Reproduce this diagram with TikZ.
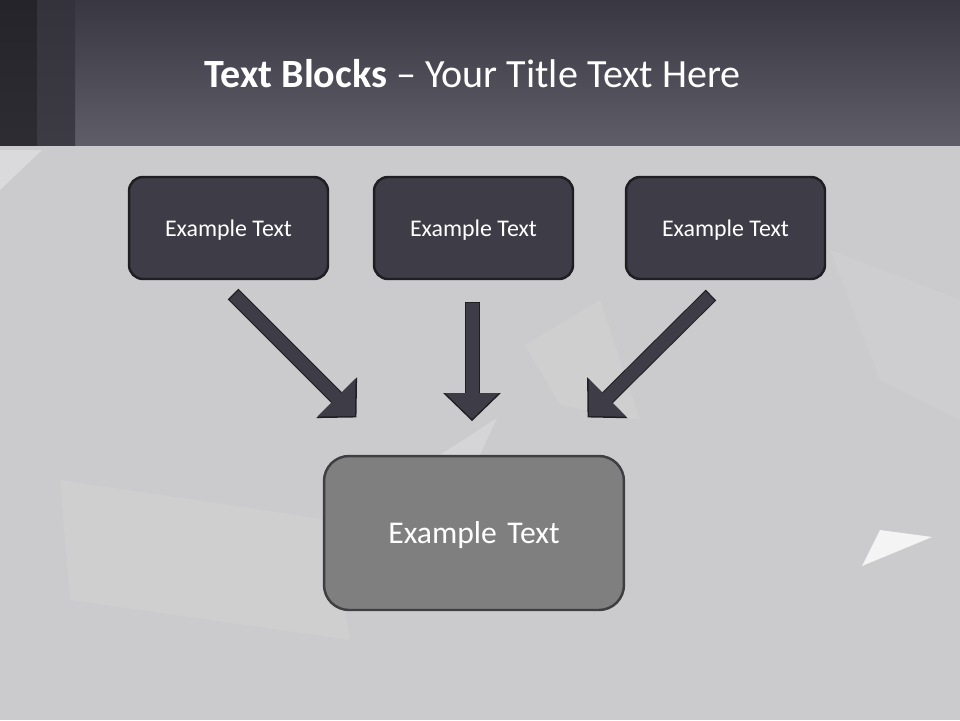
\documentclass[tikz,border=0pt]{standalone}
\usepackage{fontspec}
\setmainfont{Carlito}
\usepackage{xcolor}
\usepackage{tikz}
\usetikzlibrary{arrows.meta, positioning}
\definecolor{barTop}{HTML}{393842}
\definecolor{barBottom}{HTML}{5E5D68}
\definecolor{stripDark}{HTML}{25242A}
\definecolor{stripMid}{HTML}{34333B}
\definecolor{slideGray}{HTML}{CBCBCD}
\definecolor{blockFill}{HTML}{3E3D47}
\definecolor{blockEdge}{HTML}{1F1E23}
\definecolor{targetFill}{HTML}{7F7F7F}
\definecolor{targetEdge}{HTML}{3F3F42}

\begin{document}
\begin{tikzpicture}[x=0.02cm, y=-0.02cm,
    srcblock/.style={draw=blockEdge, line width=1.4pt, fill=blockFill, rounded corners=0.28cm,
        minimum width=3.98cm, minimum height=2.04cm, text=white, text depth=0pt,
        font=\fontsize{13.6}{16}\selectfont},
    dstblock/.style={draw=targetEdge, line width=1.4pt, fill=targetFill, rounded corners=0.5cm,
        minimum width=6.0cm, minimum height=3.08cm, text=white, text depth=0pt,
        font=\fontsize{18}{22}\selectfont},
    flowarrow/.style={draw=blockFill, line width=0.26cm, -{Triangle[width=1.04cm, length=0.52cm]},
        preaction={draw=blockEdge, line width=0.3cm, shorten >=-1.2pt, shorten <=-0.8pt,
            -{Triangle[width=1.12cm, length=0.56cm]}}}]
    \useasboundingbox (0,0) rectangle (960,720);

    % Slide background with faint facets
    \fill[slideGray] (0,0) rectangle (960,720);
    \fill[white, opacity=0.3] (0,150) -- (42,150) -- (0,190) -- cycle;
    \fill[white, opacity=0.08] (525,345) -- (600,300) -- (640,420) -- (560,405) -- cycle;
    \fill[white, opacity=0.08] (60,480) -- (330,520) -- (350,640) -- (70,600) -- cycle;
    \fill[white, opacity=0.07] (830,250) -- (960,300) -- (960,420) -- (880,380) -- cycle;
    \fill[white, opacity=0.2] (440,455) -- (497,418) -- (480,455) -- cycle;
    \fill[white, opacity=0.8] (880,530) -- (932,537) -- (862,566) -- cycle;

    % Title bar
    \shade[top color=barTop, bottom color=barBottom] (0,0) rectangle (960,145);
    \shade[top color=stripDark, bottom color=stripDark!85!barBottom] (0,0) rectangle (37,145);
    \shade[top color=stripMid, bottom color=stripMid!80!barBottom] (37,0) rectangle (75,145);
    \node[anchor=base west, text=white, font=\fontsize{22.8}{27}\selectfont, inner sep=0pt] (title) at (204,87)
        {\textbf{Text Blocks} -- Your Title Text Here};

    % Source blocks
    \node[srcblock] (blockA) at (228.5,228) {Example Text};
    \node[srcblock] (blockB) at (473.5,228) {Example Text};
    \node[srcblock] (blockC) at (725.5,228) {Example Text};

    % Target block
    \node[dstblock] (target) at (474,533) {Example\,\,Text};

    % Arrow ends
    \coordinate (startA) at (234,295);
    \coordinate (tipA) at (355,416);
    \coordinate (startB) at (472,303);
    \coordinate (tipB) at (472,419);
    \coordinate (startC) at (710,296);
    \coordinate (tipC) at (589,416);

    % Arrows
    \draw[flowarrow] (startA) -- (tipA);
    \draw[flowarrow] (startB) -- (tipB);
    \draw[flowarrow] (startC) -- (tipC);
\end{tikzpicture}
\end{document}
